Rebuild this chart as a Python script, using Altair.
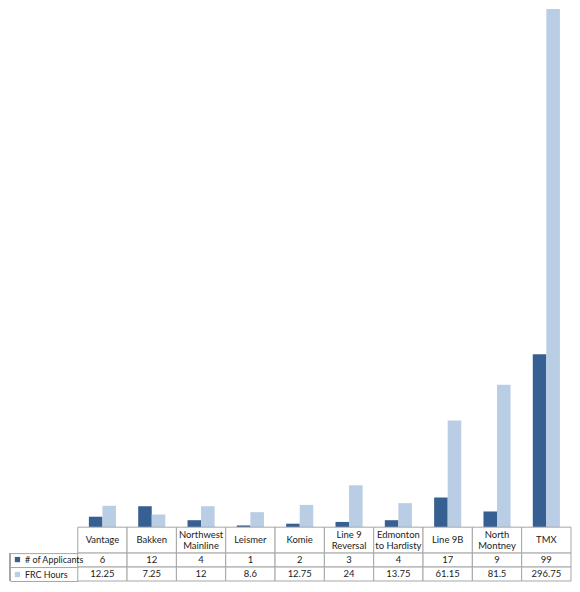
import altair as alt
import pandas as pd

# project names and header text (line breaks as in the table)
projects = ["Vantage", "Bakken", "Northwest Mainline", "Leismer", "Komie",
            "Line 9 Reversal", "Edmonton to Hardisty", "Line 9B", "North Montney", "TMX"]
headers = ["Vantage", "Bakken", "Northwest\nMainline", "Leismer", "Komie",
           "Line 9\nReversal", "Edmonton\nto Hardisty", "Line 9B", "North\nMontney", "TMX"]
series = ["# of Applicants", "FRC Hours"]
applicants = [6, 12, 4, 1, 2, 3, 4, 17, 9, 99]
frc_hours = [12.25, 7.25, 12, 8.6, 12.75, 24, 13.75, 61.15, 81.5, 296.75]

DARK = "#376092"
LIGHT = "#B9CDE5"
GRID = "#A6A6A6"
TEXT = "#222"
FONT = "Lato"
FS = 9.5
LH = 11
W = 495
H_BARS = 520
H_HEAD = 26
H_VALS = 28
LABEL_COL = 68

rows = []
for p, a, f in zip(projects, applicants, frc_hours):
    rows.append({"project": p, "series": series[0], "value": a, "label": f"{a:g}"})
    rows.append({"project": p, "series": series[1], "value": f, "label": f"{f:g}"})
df = pd.DataFrame(rows)
head_df = pd.DataFrame({"project": projects, "header": headers,
                        "lines": [h.count("\n") + 1 for h in headers]})

x_band = alt.X("project:N", sort=projects,
               scale=alt.Scale(paddingInner=0, paddingOuter=0), axis=None)

bars = alt.Chart(df, width=W, height=H_BARS).mark_bar().encode(
    x=x_band,
    xOffset=alt.XOffset("series:N", sort=series,
                        scale=alt.Scale(paddingOuter=0.82, paddingInner=0)),
    y=alt.Y("value:Q", scale=alt.Scale(domain=[0, 296.75], nice=False), axis=None),
    color=alt.Color("series:N", sort=series,
                    scale=alt.Scale(domain=series, range=[DARK, LIGHT]),
                    legend=alt.Legend(title=None, orient="none", legendX=-65,
                                      legendY=H_BARS + H_HEAD + 2,
                                      symbolType="square", symbolSize=28,
                                      symbolStrokeWidth=0, labelFont=FONT,
                                      labelFontSize=9, labelColor=TEXT,
                                      rowPadding=5, padding=0, labelOffset=3)),
)

head_base = alt.Chart(head_df, width=W, height=H_HEAD)
head_text = dict(font=FONT, fontSize=FS, color=TEXT, lineBreak="\n",
                 lineHeight=LH, baseline="middle")
header = alt.layer(
    head_base.mark_rect(fill="white", stroke=GRID, strokeWidth=1).encode(x=x_band),
    head_base.mark_text(**head_text).encode(x=x_band, text="header:N")
    .transform_filter("datum.lines == 1"),
    head_base.mark_text(dy=-LH / 2, **head_text).encode(x=x_band, text="header:N")
    .transform_filter("datum.lines == 2"),
)

y_rows = alt.Y("series:N", sort=series, scale=alt.Scale(paddingInner=0, paddingOuter=0),
               axis=alt.Axis(labels=False, title=None, domain=False, ticks=True,
                             tickBand="extent", tickSize=LABEL_COL, tickColor=GRID,
                             tickWidth=1))
val_base = alt.Chart(df, width=W, height=H_VALS)
values = alt.layer(
    val_base.mark_rect(fill="white", stroke=GRID, strokeWidth=1).encode(x=x_band, y=y_rows),
    val_base.mark_text(font=FONT, fontSize=FS, color=TEXT, baseline="middle").encode(
        x=x_band, y=y_rows, text="label:N"),
    val_base.mark_rule(color=GRID).encode(
        x=alt.value(-LABEL_COL), y=alt.value(0), y2=alt.value(H_VALS)),
)

chart = alt.vconcat(bars, header, values, spacing=0, bounds="flush").properties(
    padding={"left": 1, "top": 0, "right": 0, "bottom": 0}
).configure_view(stroke=None)

chart.save("out.html", embed_options={"renderer": "svg", "actions": False})
